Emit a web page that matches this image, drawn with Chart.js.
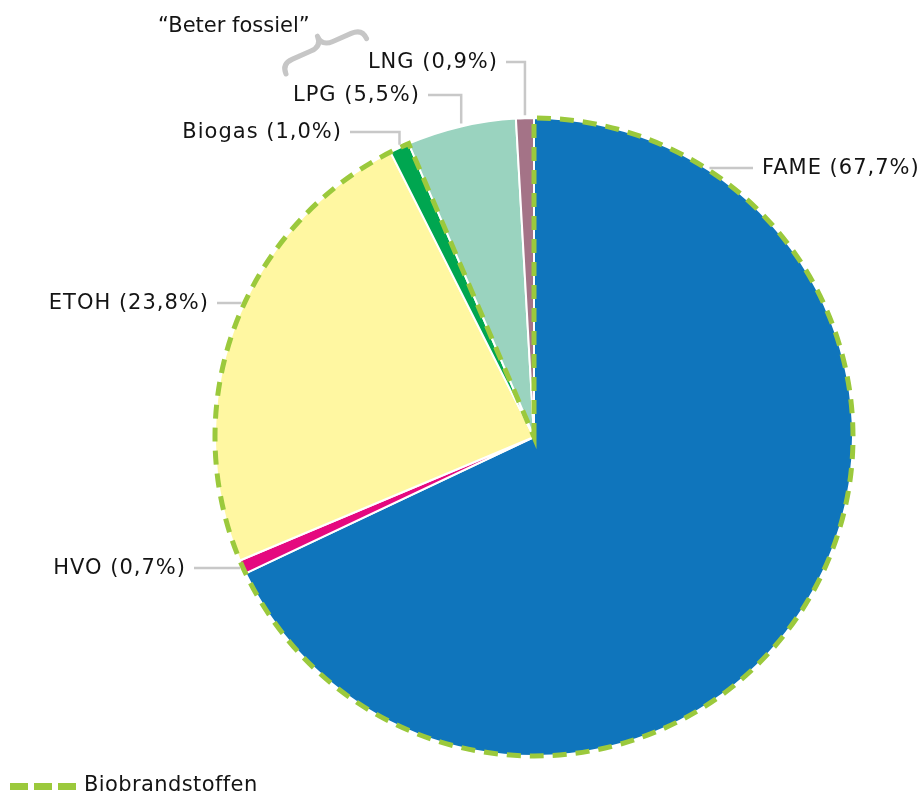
<!DOCTYPE html>
<html>
<head>
<meta charset="utf-8">
<script src="https://cdn.jsdelivr.net/npm/chart.js@4"></script>
<style>
  html, body { margin: 0; padding: 0; background: #fff; }
  #wrap { width: 920px; height: 796px; }
</style>
</head>
<body>
<div id="wrap"><canvas id="chart" width="920" height="796"></canvas></div>
<script>
'use strict';

// data
var categories = ['FAME', 'HVO', 'ETOH', 'Biogas', 'LPG', 'LNG'];
var shares = [67.7, 0.7, 23.8, 1.0, 5.5, 0.9];
var shareLabels = ['67,7%', '0,7%', '23,8%', '1,0%', '5,5%', '0,9%'];
var bioCount = 4; // first four slices are biofuels
var legendText = 'Biobrandstoffen';
var groupText = '\u201cBeter fossiel\u201d';

var sliceColors = ['#0f75bc', '#e5097f', '#fff7a1', '#00a650', '#9ad3bf', '#a47387'];
var FONT = '21px "DejaVu Sans", Verdana, sans-serif';
var TEXT = '#141414';
var LEADER = '#c8c8c8';
var BIO_GREEN = '#9bc93c';

// label layout: h = horizontal leader at text y, v = elbow from slice middle
var labelLayout = [
    { kind: 'h', side: 'right', x: 762, y: 168 },
    { kind: 'h', side: 'left', x: 186, y: 568 },
    { kind: 'h', side: 'left', x: 209, y: 303 },
    { kind: 'v', side: 'left', x: 342, y: 132 },
    { kind: 'v', side: 'left', x: 420, y: 95 },
    { kind: 'v', side: 'left', x: 498, y: 62 }
];

var annotations = {
    id: 'annotations',
    afterDatasetsDraw: function(chart) {
        var ctx = chart.ctx;
        var arcs = chart.getDatasetMeta(0).data;
        var cx = arcs[0].x, cy = arcs[0].y, r = arcs[0].outerRadius;

        // dashed outline round the biofuel slices
        ctx.save();
        ctx.strokeStyle = BIO_GREEN;
        ctx.lineWidth = 5;
        ctx.setLineDash([14, 9]);
        ctx.beginPath();
        ctx.moveTo(cx, cy);
        ctx.arc(cx, cy, r, arcs[0].startAngle, arcs[bioCount - 1].endAngle);
        ctx.closePath();
        ctx.stroke();
        ctx.restore();

        // leader lines + labels
        ctx.save();
        ctx.font = FONT;
        ctx.letterSpacing = '1px';
        ctx.textBaseline = 'middle';
        ctx.fillStyle = TEXT;
        ctx.strokeStyle = LEADER;
        ctx.lineWidth = 2.5;
        labelLayout.forEach(function(L, i) {
            var txt = categories[i] + ' (' + shareLabels[i] + ')';
            ctx.beginPath();
            if (L.kind === 'h') {
                var dy = L.y - cy;
                var dx = Math.sqrt(Math.max(r * r - dy * dy, 0));
                if (L.side === 'right') {
                    ctx.moveTo(cx + dx + 4, L.y);
                    ctx.lineTo(L.x - 9, L.y);
                } else {
                    ctx.moveTo(cx - dx - 3, L.y);
                    ctx.lineTo(L.x + 8, L.y);
                }
            } else {
                var mid = (arcs[i].startAngle + arcs[i].endAngle) / 2;
                var px = cx + Math.cos(mid) * r;
                var py = cy + Math.sin(mid) * r;
                ctx.moveTo(px, py - 3);
                ctx.lineTo(px, L.y);
                ctx.lineTo(L.x + 8, L.y);
            }
            ctx.stroke();
            ctx.textAlign = L.side === 'right' ? 'left' : 'right';
            ctx.fillText(txt, L.x, L.y + 1);
        });

        // "Beter fossiel" with brace
        ctx.textAlign = 'left';
        ctx.letterSpacing = '0px';
        ctx.fillText(groupText, 158, 27);
        ctx.save();
        ctx.translate(286, 74);
        ctx.rotate(Math.atan2(-36, 82));
        var len = 88, h = 22, q = 12;
        ctx.strokeStyle = '#c6c6c6';
        ctx.lineWidth = 5;
        ctx.lineCap = 'round';
        ctx.lineJoin = 'round';
        ctx.beginPath();
        ctx.moveTo(0, 0);
        ctx.quadraticCurveTo(0, -h / 2, q, -h / 2);
        ctx.lineTo(len / 2 - q, -h / 2);
        ctx.quadraticCurveTo(len / 2, -h / 2, len / 2, -h);
        ctx.quadraticCurveTo(len / 2, -h / 2, len / 2 + q, -h / 2);
        ctx.lineTo(len - q, -h / 2);
        ctx.quadraticCurveTo(len, -h / 2, len, 0);
        ctx.stroke();
        ctx.restore();

        // legend
        ctx.fillStyle = BIO_GREEN;
        for (var k = 0; k < 3; k++) ctx.fillRect(10 + k * 24, 783, 18, 7);
        ctx.fillStyle = TEXT;
        ctx.letterSpacing = '0.4px';
        ctx.fillText(legendText, 84, 786);
        ctx.restore();
    }
};

new Chart(document.getElementById('chart'), {
    type: 'pie',
    data: {
        labels: categories,
        datasets: [{
            data: shares,
            backgroundColor: sliceColors,
            borderColor: '#ffffff',
            borderWidth: 2
        }]
    },
    options: {
        responsive: false,
        animation: false,
        layout: { padding: { top: 117, bottom: 39, left: 214, right: 66 } },
        plugins: { legend: { display: false }, tooltip: { enabled: false } }
    },
    plugins: [annotations]
});
</script>
</body>
</html>
